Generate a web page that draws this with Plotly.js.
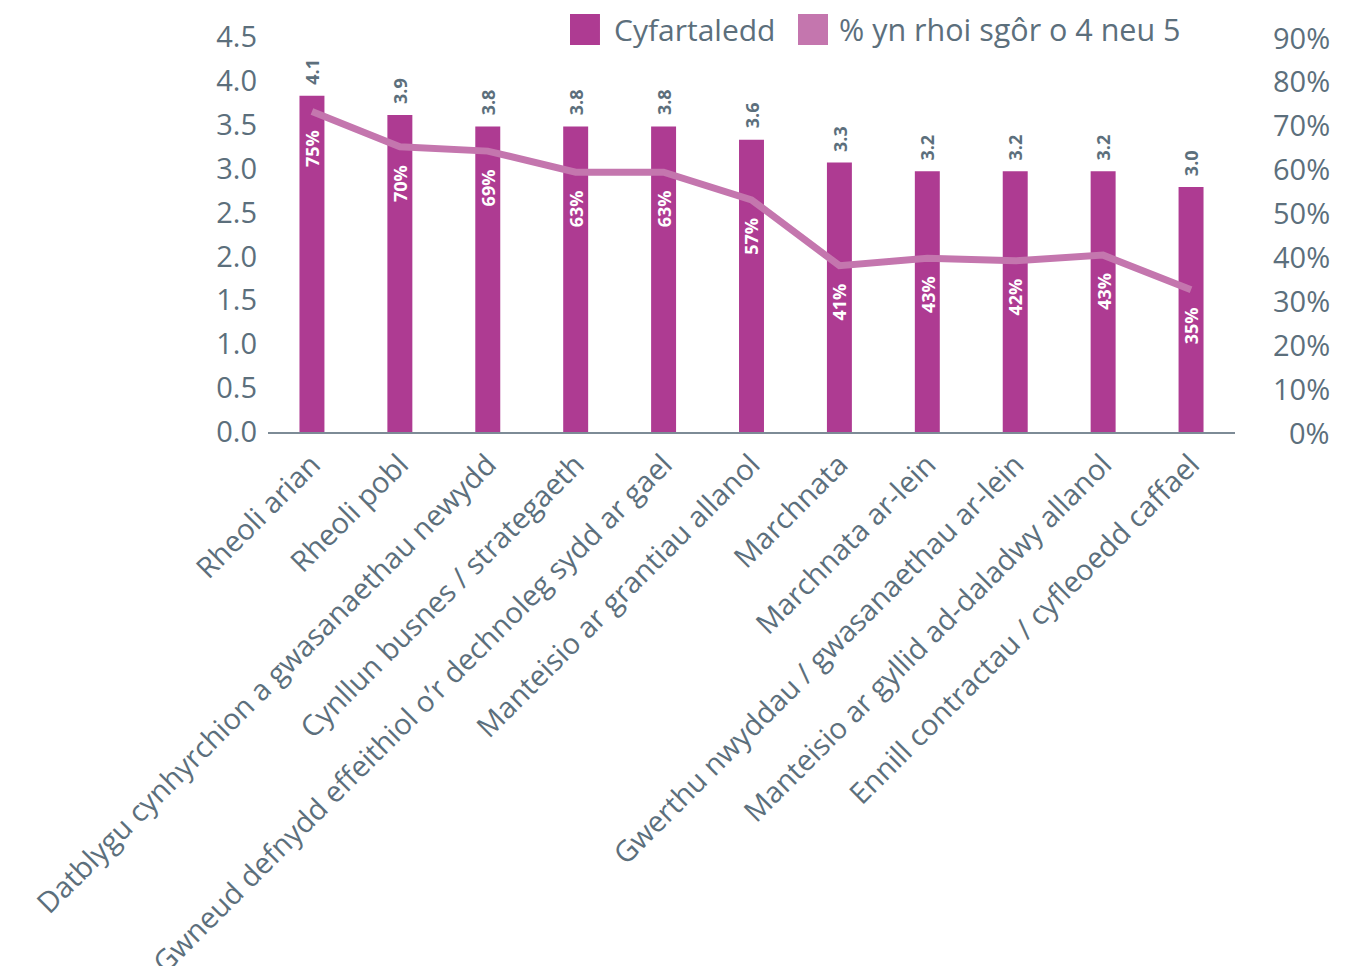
<!DOCTYPE html>
<html>
<head>
<meta charset="utf-8">
<script src="https://cdn.plot.ly/plotly-3.0.1.min.js"></script>
<style>html,body{margin:0;padding:0;background:#fff;}#chart{width:1345px;height:966px;}</style>
</head>
<body>
<div id="chart"></div>
<script>
const categories = [
  'Rheoli arian',
  'Rheoli pobl',
  'Datblygu cynhyrchion a gwasanaethau newydd',
  'Cynllun busnes / strategaeth',
  'Gwneud defnydd effeithiol o\u2019r dechnoleg sydd ar gael',
  'Manteisio ar grantiau allanol',
  'Marchnata',
  'Marchnata ar-lein',
  'Gwerthu nwyddau / gwasanaethau ar-lein',
  'Manteisio ar gyllid ad-daladwy allanol',
  'Ennill contractau / cyfleoedd caffael'
];
// bar heights as drawn against the left axis
const avgHeights = [3.83, 3.61, 3.48, 3.48, 3.48, 3.33, 3.07, 2.97, 2.97, 2.97, 2.79];
// printed value labels
const avgLabels = ['4.1', '3.9', '3.8', '3.8', '3.8', '3.6', '3.3', '3.2', '3.2', '3.2', '3.0'];
// line as drawn against the right axis (%)
const pctLine = [73.0, 65.0, 64.0, 59.2, 59.2, 52.9, 37.9, 39.6, 39.0, 40.3, 32.4];
// printed percentage labels
const pctLabels = ['75%', '70%', '69%', '63%', '63%', '57%', '41%', '43%', '42%', '43%', '35%'];

const leftTickVals = [0, 0.5, 1, 1.5, 2, 2.5, 3, 3.5, 4, 4.5];
const leftTickText = ['0.0', '0.5', '1.0', '1.5', '2.0', '2.5', '3.0', '3.5', '4.0', '4.5'];
const rightTickVals = [0, 10, 20, 30, 40, 50, 60, 70, 80, 90];
const rightTickText = ['0%', '10%', '20%', '30%', '40%', '50%', '60%', '70%', '80%', '90%'];

const seriesNames = ['Cyfartaledd', '% yn rhoi sg\u00f4r o 4 neu 5'];

const BAR = '#ae3b92';
const LINE = '#c476ae';
const TXT = '#5c6f7c';
const FONT = '"Open Sans", "Noto Sans", sans-serif';

const traces = [
  {
    type: 'bar', x: categories, y: avgHeights, name: seriesNames[0],
    marker: {color: BAR}, showlegend: false, hoverinfo: 'skip'
  },
  {
    type: 'scatter', mode: 'lines', x: categories, y: pctLine, yaxis: 'y2',
    name: seriesNames[1], line: {color: LINE, width: 7}, showlegend: false, hoverinfo: 'skip'
  }
];

const annotations = [];
categories.forEach((c, i) => {
  annotations.push({
    x: c, y: avgHeights[i], xref: 'x', yref: 'y', text: '<b>' + avgLabels[i] + '</b>',
    showarrow: false, textangle: -90, yanchor: 'bottom', xanchor: 'center', yshift: 9,
    font: {family: FONT, size: 18, color: TXT}
  });
  annotations.push({
    x: c, y: pctLine[i], xref: 'x', yref: 'y2', text: '<b>' + pctLabels[i] + '</b>',
    showarrow: false, textangle: -90, yanchor: 'top', xanchor: 'center', yshift: -16,
    font: {family: FONT, size: 18, color: '#ffffff'}
  });
});
rightTickVals.forEach((v, i) => {
  annotations.push({
    x: 1.1003, xref: 'paper', y: v, yref: 'y2', text: rightTickText[i],
    showarrow: false, xanchor: 'right', yanchor: 'middle',
    font: {family: FONT, size: 29, color: TXT}
  });
});
// legend (custom, square swatches)
annotations.push({
  x: 0.3558, xref: 'paper', y: 1.0202, yref: 'paper', text: seriesNames[0],
  showarrow: false, xanchor: 'left', yanchor: 'middle', font: {family: FONT, size: 30, color: TXT}
});
annotations.push({
  x: 0.5884, xref: 'paper', y: 1.0202, yref: 'paper', text: seriesNames[1],
  showarrow: false, xanchor: 'left', yanchor: 'middle', font: {family: FONT, size: 30.5, color: TXT}
});
const shapes = [
  {type: 'rect', xref: 'paper', yref: 'paper', x0: 0.3123, x1: 0.3433, y0: 0.9797, y1: 1.0582,
   fillcolor: BAR, line: {width: 0}},
  {type: 'rect', xref: 'paper', yref: 'paper', x0: 0.5481, x1: 0.5791, y0: 0.9797, y1: 1.0582,
   fillcolor: LINE, line: {width: 0}}
];

const layout = {
  width: 1345, height: 966,
  margin: {l: 268, r: 110, t: 37, b: 534, pad: 0},
  paper_bgcolor: '#ffffff', plot_bgcolor: '#ffffff',
  font: {family: FONT, color: TXT},
  showlegend: false,
  bargap: 0.716,
  xaxis: {
    type: 'category', range: [-0.5, 10.5], automargin: false,
    tickangle: -45, tickfont: {family: FONT, size: 29, color: TXT},
    showline: true, linecolor: '#7d8b96', linewidth: 2, ticks: '', showgrid: false,
    ticklabelstandoff: 2, fixedrange: true
  },
  yaxis: {
    range: [0, 4.5], automargin: false, tickvals: leftTickVals, ticktext: leftTickText,
    tickfont: {family: FONT, size: 29, color: TXT}, showgrid: false, zeroline: false,
    showline: false, ticks: '', ticklabelstandoff: 10
  },
  yaxis2: {
    range: [0, 90], overlaying: 'y', side: 'right', showticklabels: false,
    showgrid: false, zeroline: false, showline: false, ticks: '', automargin: false
  },
  annotations: annotations,
  shapes: shapes
};

Plotly.newPlot('chart', traces, layout, {displayModeBar: false, staticPlot: true});
</script>
</body>
</html>
